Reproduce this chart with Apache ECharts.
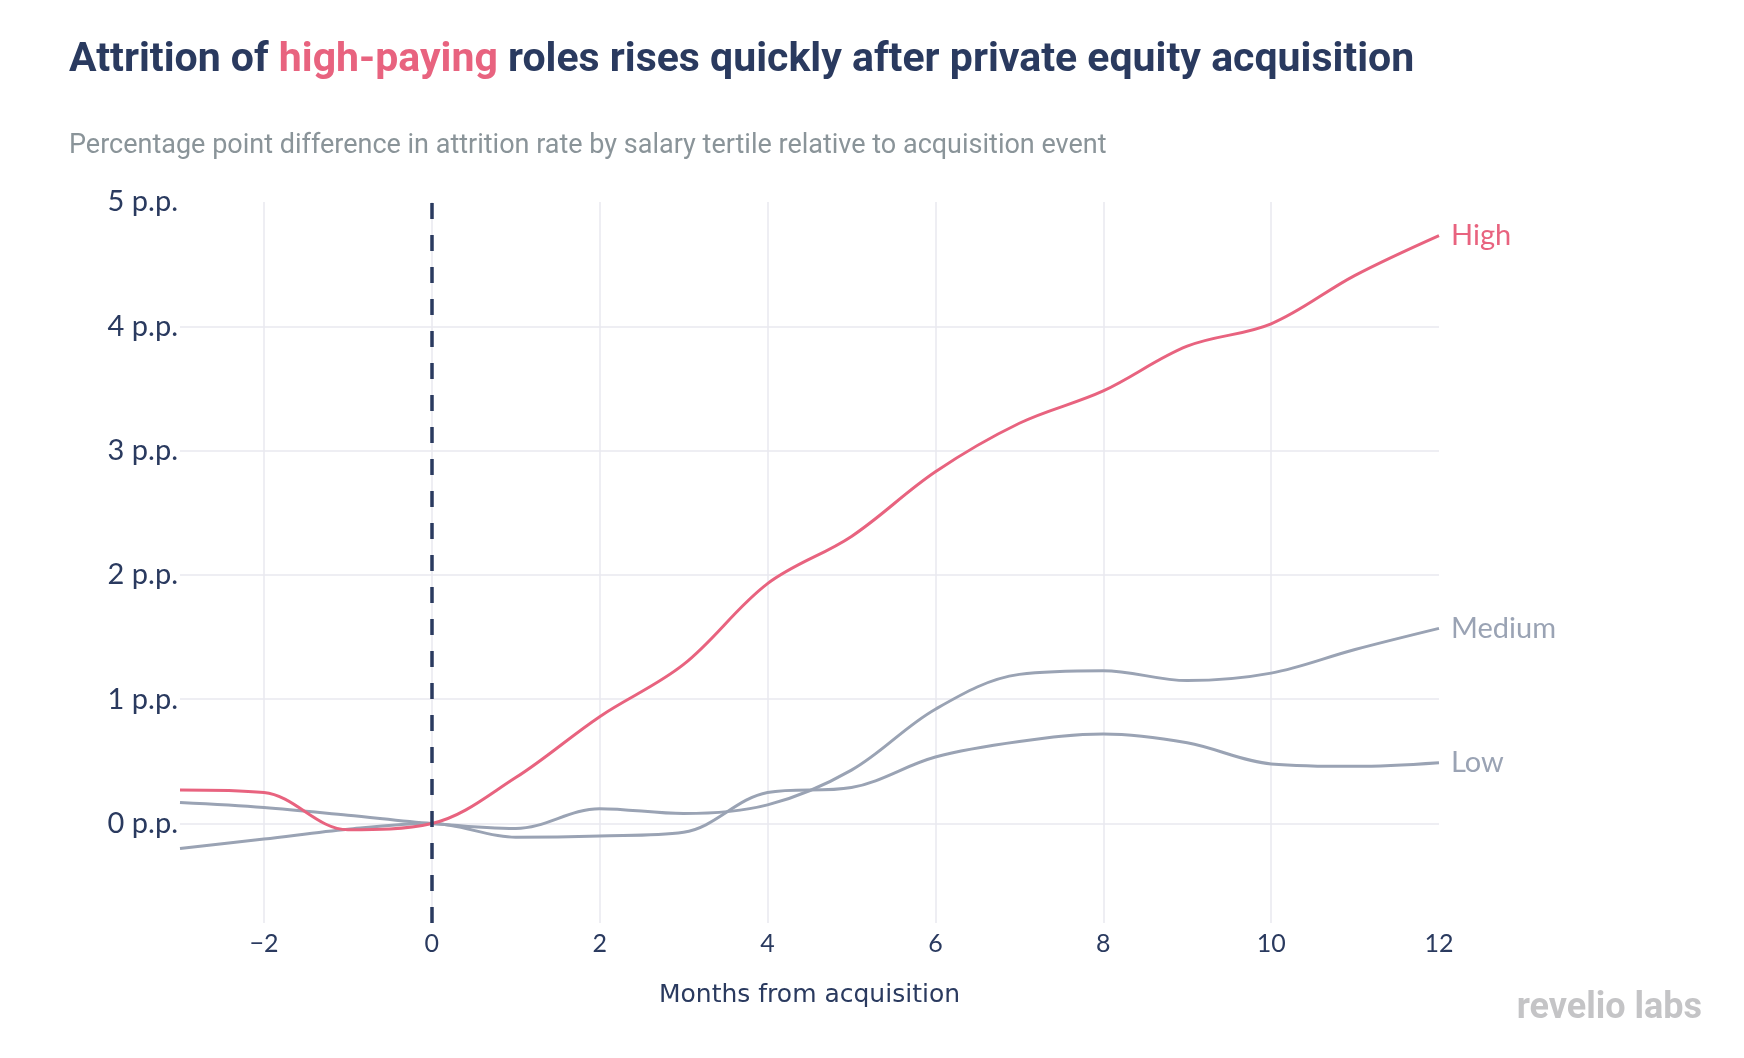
<!DOCTYPE html>
<html>
<head>
<meta charset="utf-8">
<script src="https://cdn.jsdelivr.net/npm/echarts@6/dist/echarts.min.js"></script>
<style>
html,body{margin:0;padding:0;background:#fff;}
#chart{width:1744px;height:1058px;}
</style>
</head>
<body>
<div id="chart"></div>
<script>
const months = [-3, -2, -1, 0, 1, 2, 3, 4, 5, 6, 7, 8, 9, 10, 11, 12];
const high   = [0.27, 0.25, -0.05, 0, 0.37, 0.86, 1.28, 1.93, 2.31, 2.83, 3.22, 3.48, 3.84, 4.02, 4.41, 4.73];
const medium = [0.17, 0.13, 0.067, 0, -0.04, 0.12, 0.08, 0.15, 0.43, 0.92, 1.20, 1.23, 1.15, 1.21, 1.40, 1.57];
const low    = [-0.20, -0.125, -0.045, 0, -0.11, -0.10, -0.07, 0.25, 0.29, 0.535, 0.66, 0.72, 0.65, 0.48, 0.46, 0.49];
const xTickLabels = [-2, 0, 2, 4, 6, 8, 10, 12];
const xGridValues = [-2, 0, 2, 4, 6, 8, 10];
const yTickLabels = [0, 1, 2, 3, 4, 5];
const yGridValues = [0, 1, 2, 3, 4];
const seriesNames = ['High', 'Medium', 'Low'];

const NAVY = '#2a3a5f';
const PINK = '#e8637f';
const GRAY = '#9aa3b4';
const GRID = '#e9e9ef';

const chart = echarts.init(document.getElementById('chart'), null, {renderer: 'canvas'});

function mkSeries(name, vals, color) {
  return {
    name: name,
    type: 'line',
    data: months.map((m, i) => [m, vals[i]]),
    smooth: 0.35,
    showSymbol: false,
    symbol: 'none',
    lineStyle: {color: color, width: 3},
    itemStyle: {color: color},
    endLabel: {
      show: true,
      formatter: '{a}',
      color: color,
      fontFamily: 'Lato',
      fontSize: 29,
      distance: 12
    },
    emphasis: {disabled: true},
    z: name === 'High' ? 4 : 3
  };
}

const series = [
  mkSeries(seriesNames[2], low, GRAY),
  mkSeries(seriesNames[1], medium, GRAY),
  mkSeries(seriesNames[0], high, PINK)
];
series[0].markLine = {
  silent: true,
  symbol: ['none', 'none'],
  label: {show: false},
  lineStyle: {color: NAVY, width: 3.5, type: [16, 16]},
  data: [{xAxis: 0}],
  animation: false
};

const option = {
  animation: false,
  backgroundColor: '#ffffff',
  grid: {left: 180, right: 305, top: 202, bottom: 135, containLabel: false},
  xAxis: {
    type: 'value',
    min: -3,
    max: 12,
    name: 'Months from acquisition',
    nameLocation: 'middle',
    nameGap: 60,
    nameTextStyle: {color: NAVY, fontFamily: 'DejaVu Sans', fontSize: 25},
    axisLine: {show: false},
    axisTick: {show: false, customValues: xGridValues},
    axisLabel: {
      customValues: xTickLabels,
      color: NAVY,
      fontFamily: 'Lato',
      fontSize: 25,
      margin: 8,
      formatter: v => v < 0 ? '\u2212' + Math.abs(v) : String(v)
    },
    splitLine: {show: true, lineStyle: {color: GRID, width: 1.5}}
  },
  yAxis: {
    type: 'value',
    min: -0.8,
    max: 5,
    axisLine: {show: false},
    axisTick: {show: false, customValues: yGridValues},
    axisLabel: {
      customValues: yTickLabels,
      color: NAVY,
      fontFamily: 'Lato',
      fontSize: 29,
      margin: 2,
      formatter: v => v + ' p.p.'
    },
    splitLine: {show: true, lineStyle: {color: GRID, width: 1.5}}
  },
  graphic: [
    {
      type: 'text', x: 69, y: 61,
      style: {
        text: '{a|Attrition of }{b|high-paying}{a| roles rises quickly after private equity acquisition}',
        verticalAlign: 'middle',
        rich: {
          a: {fontFamily: 'Roboto', fontWeight: 700, fontSize: 41, fill: NAVY, color: NAVY},
          b: {fontFamily: 'Roboto', fontWeight: 700, fontSize: 41, fill: PINK, color: PINK}
        }
      }
    },
    {
      type: 'text', x: 69, y: 146,
      style: {
        text: 'Percentage point difference in attrition rate by salary tertile relative to acquisition event',
        fontFamily: 'Roboto', fontSize: 27, fill: '#8a9499', verticalAlign: 'middle'
      }
    },
    {
      type: 'text', x: 1702, y: 1009,
      style: {
        text: 'revelio labs',
        fontFamily: 'Roboto', fontWeight: 700, fontSize: 36, fill: '#c4c4c6',
        align: 'right', verticalAlign: 'middle'
      }
    }
  ],
  series: series
};
chart.setOption(option);
</script>
</body>
</html>
